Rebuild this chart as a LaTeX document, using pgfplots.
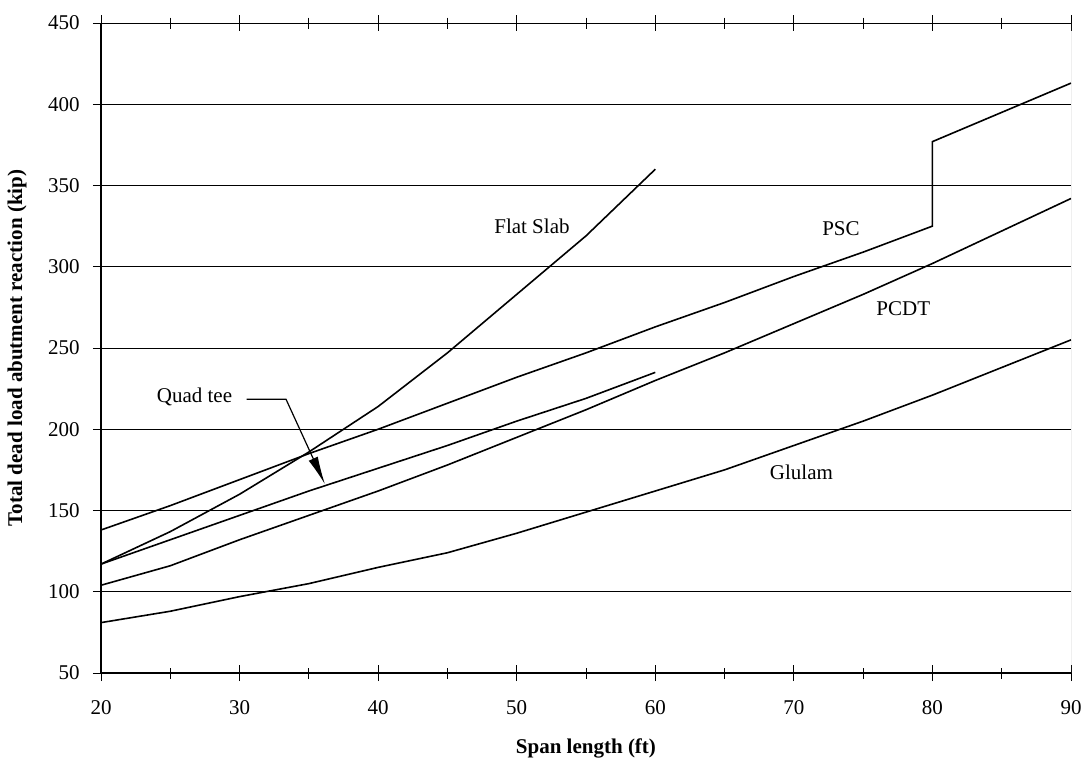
\documentclass[border=0pt]{standalone}
\usepackage{fontspec}
\setmainfont{Liberation Serif}
\usepackage{pgfplots}
\pgfplotsset{compat=1.18}
\usetikzlibrary{arrows.meta}
\begin{document}
\fontsize{10.5bp}{12.6bp}\selectfont
\begin{tikzpicture}
\path[use as bounding box] (-50.5bp,-51.5bp) rectangle (493.5bp,336.5bp);
\begin{axis}[
  at={(0,0)}, anchor=south west,
  scale only axis, width=485bp, height=325bp,
  xmin=20, xmax=90, ymin=50, ymax=450,
  axis x line*=box, axis y line*=left,
  x axis line style={line width=0.5bp},
  y axis line style={line width=1bp},
  xtick={20,30,...,90}, ytick={50,100,...,450},
  minor x tick num=1,
  tick align=center,
  major tick length=8bp, minor tick length=5.5bp,
  tick style={black, line width=0.5bp},
  ymajorgrids, grid style={black, line width=0.5bp},
  /pgf/number format/assume math mode=true,
  ticklabel style={font=\fontsize{10.5bp}{12.6bp}\selectfont},
  xticklabel style={yshift=-6bp},
  yticklabel style={xshift=-3bp},
  xlabel={\textbf{Span length (ft)}},
  ylabel={\textbf{Total dead load abutment reaction (kip)}},
  xlabel style={at={(axis description cs:0.5,-0.1154)}, anchor=center, font=\fontsize{10.5bp}{12.6bp}\selectfont},
  ylabel style={at={(axis description cs:-0.0866,0.5)}, anchor=center, font=\fontsize{10.5bp}{12.6bp}\selectfont},
]
% PSC
\addplot[black, line width=0.8bp, mark=none] coordinates {(20,138) (25,153) (30,169) (35,185) (40,200) (45,216) (50,232) (55,247) (60,263) (65,278) (70,294) (75,309) (80,325) (80,377) (85,395) (90,413)};
% Flat Slab
\addplot[black, line width=0.8bp, mark=none] coordinates {(20,117) (25,137) (30,160) (35,186) (40,214) (45,247) (50,283) (55,319) (60,360)};
% Quad tee
\addplot[black, line width=0.8bp, mark=none] coordinates {(20,117) (25,132) (30,147) (35,162) (40,176) (45,190) (50,205) (55,219) (60,235)};
% PCDT
\addplot[black, line width=0.8bp, mark=none] coordinates {(20,104) (25,116) (30,132) (35,147) (40,162) (45,178) (50,195) (55,212) (60,230) (65,247) (70,265) (75,283) (80,302) (85,322) (90,342)};
% Glulam
\addplot[black, line width=0.8bp, mark=none] coordinates {(20,81) (25,88) (30,97) (35,105) (40,115) (45,124) (50,136) (55,149) (60,162) (65,175) (70,190) (75,205) (80,221) (85,238) (90,255)};
\draw[black, line width=1bp] (rel axis cs:0,0) -- (rel axis cs:1,0);
\draw[gray, line width=0.5bp] (rel axis cs:1,0) -- (rel axis cs:1,1);
\node at (axis cs:51.1,325) {Flat Slab};
\node at (axis cs:73.4,323.5) {PSC};
\node at (axis cs:77.9,274) {PCDT};
\node at (axis cs:70.55,173.4) {Glulam};
\node at (axis cs:26.75,220) {Quad tee};
\draw[-{Latex[length=14bp,width=5bp]}, line width=0.6bp] (axis cs:30.5,218.5) -- (axis cs:33.35,218.5) -- (axis cs:36.16,166.2);
\end{axis}
\end{tikzpicture}
\end{document}
